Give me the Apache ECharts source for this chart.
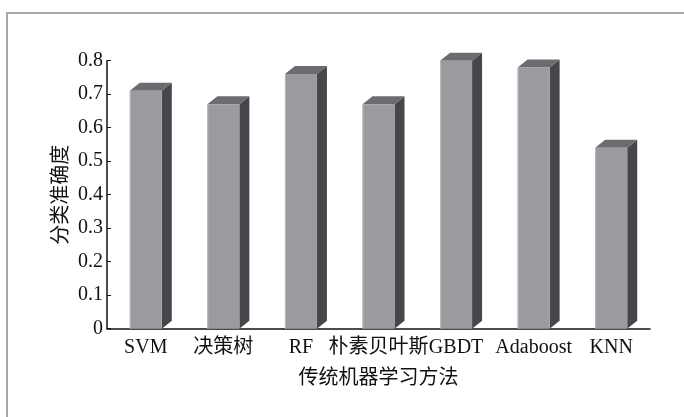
<!DOCTYPE html>
<html>
<head>
<meta charset="utf-8">
<style>
  html, body { margin: 0; padding: 0; background: #fff; }
  #chart { width: 684px; height: 417px; }
</style>
<script src="https://cdn.jsdelivr.net/npm/echarts@6/dist/echarts.min.js"></script>
</head>
<body>
<div id="chart"></div>
<script>
// Classification accuracy of traditional machine-learning methods
const methods = ['SVM', '决策树', 'RF', '朴素贝叶斯', 'GBDT', 'Adaboost', 'KNN'];
const accuracy = [0.71, 0.67, 0.76, 0.67, 0.80, 0.78, 0.54];
const yTicks = [0, 0.1, 0.2, 0.3, 0.4, 0.5, 0.6, 0.7, 0.8];

const FONT = '"Liberation Serif", "Noto Sans CJK SC", serif';

// pseudo-3D box: front face, top face and right side face
const BAR_W = 32, DEPTH_X = 10, DEPTH_Y = 8;
function renderBox(params, api) {
  const idx = api.value(0);
  const val = api.value(1);
  const top = api.coord([idx, val]);
  const base = api.coord([idx, 0]);
  const x0 = top[0] - BAR_W / 2, x1 = top[0] + BAR_W / 2;
  const yt = top[1], yb = base[1];
  return {
    type: 'group',
    children: [
      { type: 'polygon',
        shape: { points: [[x1, yt], [x1 + DEPTH_X, yt - DEPTH_Y], [x1 + DEPTH_X, yb - DEPTH_Y], [x1, yb]] },
        style: { fill: '#46474a' } },
      { type: 'polygon',
        shape: { points: [[x0, yt], [x0 + DEPTH_X, yt - DEPTH_Y], [x1 + DEPTH_X, yt - DEPTH_Y], [x1, yt]] },
        style: { fill: '#6b6c70' } },
      { type: 'rect',
        shape: { x: x0, y: yt, width: BAR_W, height: yb - yt },
        style: { fill: '#9a9b9f' } },
      { type: 'line',
        shape: { x1: x0 + 0.5, y1: yt, x2: x0 + 0.5, y2: yb },
        style: { stroke: '#b9babd', lineWidth: 1 } }
    ]
  };
}

const chart = echarts.init(document.getElementById('chart'), null, { renderer: 'canvas' });
chart.setOption({
  backgroundColor: '#fff',
  animation: false,
  graphic: [{
    type: 'rect', silent: true,
    shape: { x: 7, y: 13, width: 720, height: 450 },
    style: { fill: 'none', stroke: '#a8a8a8', lineWidth: 2 }
  }],
  grid: { left: 107, right: 34, top: 60.7, bottom: 88.3 },
  xAxis: {
    type: 'category',
    data: methods,
    boundaryGap: true,
    name: '传统机器学习方法',
    nameLocation: 'middle',
    nameGap: 40,
    nameMoveOverlap: false,
    nameTextStyle: { fontFamily: FONT, fontSize: 20, color: '#111' },
    axisLine: { lineStyle: { color: '#111', width: 1.5 } },
    axisTick: { inside: true, length: 5, alignWithLabel: false, lineStyle: { color: '#111' } },
    axisLabel: { fontFamily: FONT, fontSize: 20, color: '#111', margin: 9, interval: 0 }
  },
  yAxis: {
    type: 'value',
    min: 0, max: 0.8, interval: 0.1,
    name: '分类准确度',
    nameLocation: 'middle',
    nameGap: 35,
    nameMoveOverlap: false,
    nameTextStyle: { fontFamily: FONT, fontSize: 20, color: '#111' },
    axisLine: { show: true, lineStyle: { color: '#111', width: 1.5 } },
    axisTick: { show: true, inside: true, length: 4, lineStyle: { color: '#111' } },
    splitLine: { show: false },
    axisLabel: {
      fontFamily: FONT, fontSize: 20, color: '#111', margin: 4,
      formatter: function (v) {
        const t = yTicks.find(function (k) { return Math.abs(k - v) < 1e-9; });
        return t === 0 ? '0' : (t !== undefined ? t.toFixed(1) : '');
      }
    }
  },
  series: [{
    type: 'custom',
    clip: false,
    renderItem: renderBox,
    encode: { x: 0, y: 1 },
    data: accuracy.map(function (v, i) { return [i, v]; })
  }]
});
</script>
</body>
</html>
